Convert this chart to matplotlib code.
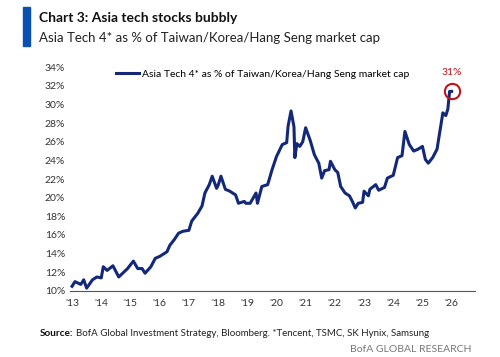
import matplotlib.pyplot as plt
from matplotlib.patches import Rectangle

# Asia Tech 4 share of Taiwan/Korea/Hang Seng market cap (%)
years = [2013.0, 2013.1, 2013.3, 2013.4, 2013.5, 2013.7, 2013.85, 2014.0, 2014.07, 2014.2,
         2014.4, 2014.6, 2014.7, 2014.9, 2015.1, 2015.25, 2015.4, 2015.5, 2015.7, 2015.85,
         2016.0, 2016.25, 2016.35, 2016.5, 2016.65, 2016.8, 2017.0, 2017.1, 2017.3, 2017.45,
         2017.55, 2017.7, 2017.8, 2017.95, 2018.0, 2018.1, 2018.25, 2018.4, 2018.6, 2018.7,
         2018.9, 2018.95, 2019.1, 2019.3, 2019.35, 2019.5, 2019.7, 2019.85, 2020.0, 2020.2,
         2020.35, 2020.4, 2020.5, 2020.6, 2020.63, 2020.7, 2020.8, 2020.9, 2021.0, 2021.15,
         2021.3, 2021.45, 2021.55, 2021.65, 2021.8, 2021.85, 2022.0, 2022.1, 2022.2, 2022.35,
         2022.5, 2022.6, 2022.7, 2022.8, 2022.95, 2023.0, 2023.15, 2023.2, 2023.4, 2023.5,
         2023.7, 2023.8, 2024.0, 2024.15, 2024.3, 2024.4, 2024.55, 2024.7, 2024.85, 2025.0,
         2025.1, 2025.2, 2025.35, 2025.5, 2025.55, 2025.7, 2025.8, 2025.87, 2025.93, 2026.0]
share = [10.5, 11.0, 10.7, 11.2, 10.3, 11.2, 11.5, 11.4, 12.6, 12.2,
         12.7, 11.5, 11.8, 12.4, 13.2, 12.4, 12.4, 11.9, 12.6, 13.5,
         13.7, 14.2, 14.9, 15.5, 16.2, 16.4, 16.5, 17.5, 18.3, 19.1,
         20.5, 21.4, 22.3, 21.0, 21.3, 22.3, 20.9, 20.7, 20.3, 19.4,
         19.6, 19.4, 19.4, 20.5, 19.4, 21.2, 21.4, 23.0, 24.4, 25.7,
         25.9, 27.7, 29.3, 27.6, 24.3, 25.8, 25.5, 26.0, 27.5, 26.2,
         24.6, 23.7, 22.1, 22.9, 23.0, 23.9, 23.0, 22.7, 21.2, 20.5,
         20.2, 19.6, 18.9, 19.4, 19.5, 20.7, 20.2, 20.9, 21.4, 20.8,
         21.1, 22.1, 22.4, 24.3, 24.5, 27.1, 25.7, 25.0, 25.2, 25.5,
         24.1, 23.7, 24.3, 25.2, 26.2, 29.1, 28.8, 29.5, 31.4, 31.4]

yticks = list(range(10, 35, 2))
xticks = list(range(2013, 2027))
xlabels = ["'%02d" % (y % 100) for y in xticks]

navy = '#14287a'
plt.rcParams['font.family'] = ['Lato', 'DejaVu Sans']

fig = plt.figure(figsize=(5, 3.57), dpi=100)
ax = fig.add_axes([0.14, 0.185, 0.81, 0.627])

ax.plot(years, share, color=navy, lw=2.2, solid_joinstyle='round',
        label='Asia Tech 4* as % of Taiwan/Korea/Hang Seng market cap')
ax.set_xlim(2012.93, 2026.8)
ax.set_ylim(10, 34)
ax.set_yticks(yticks)
ax.set_yticklabels(['%d%%' % v for v in yticks])
ax.set_xticks(xticks)
ax.set_xticklabels(xlabels)
ax.tick_params(length=0, labelsize=7.5, colors='#333333')
ax.tick_params(axis='x', pad=6)
for s in ['left', 'right', 'top']:
    ax.spines[s].set_visible(False)
ax.spines['bottom'].set_color('#555555')

ax.legend(loc='upper left', bbox_to_anchor=(0.09, 1.03), frameon=False, fontsize=7.5,
          handlelength=2.2, handletextpad=0.3)

# highlight latest reading
ax.plot([years[-1]], [share[-1]], marker='o', ms=11, mfc='none', mec='#c0121c', mew=1.5)
ax.annotate('31%', (years[-1], share[-1]), xytext=(0, 10), textcoords='offset points',
            ha='center', va='bottom', color='#c0121c', fontsize=7.5)

# header
fig.patches.append(Rectangle((0.046, 0.872), 0.014, 0.108, transform=fig.transFigure,
                             color='#0a50b4', figure=fig))
fig.text(0.078, 0.95, 'Chart 3: Asia tech stocks bubbly', fontsize=10, fontweight='bold',
         va='center', color='#111111')
fig.text(0.078, 0.893, 'Asia Tech 4* as % of Taiwan/Korea/Hang Seng market cap', fontsize=9.5,
         va='center', color='#222222')

# footer
fig.text(0.08, 0.067, 'Source:', fontsize=7.2, fontweight='bold', va='center', color='#111111')
fig.text(0.152, 0.067, 'BofA Global Investment Strategy, Bloomberg. *Tencent, TSMC, SK Hynix, Samsung',
         fontsize=7.0, va='center', color='#222222')
fig.text(0.944, 0.02, 'BofA GLOBAL RESEARCH', fontsize=7.5, ha='right', va='center', color='#777777')

fig.savefig('out.png', dpi=100)
